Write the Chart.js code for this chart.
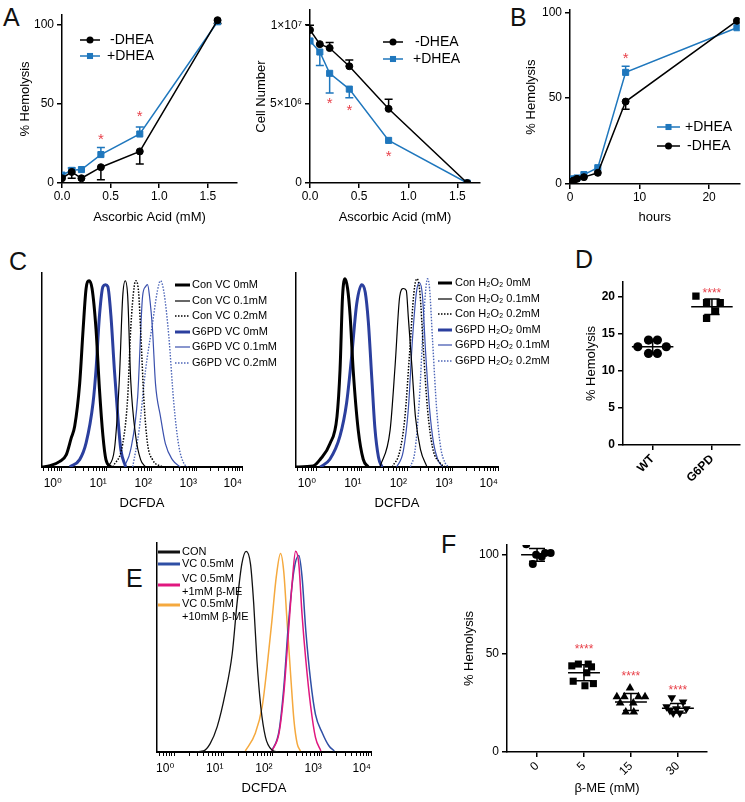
<!DOCTYPE html>
<html><head><meta charset="utf-8">
<script src="https://cdn.jsdelivr.net/npm/chart.js@4.4.1/dist/chart.umd.min.js"></script>
<style>
html,body{margin:0;padding:0;background:#fff}
body{position:relative;width:745px;height:802px;overflow:hidden;font-family:"Liberation Sans",Arial,sans-serif}
canvas{position:absolute}
.pl{position:absolute;font-size:25px;line-height:25px;color:#111}
</style></head><body>
<div class="pl" style="left:3px;top:5px">A</div>
<div class="pl" style="left:510px;top:5px">B</div>
<div class="pl" style="left:9px;top:249px">C</div>
<div class="pl" style="left:575px;top:247px">D</div>
<div class="pl" style="left:126px;top:566px">E</div>
<div class="pl" style="left:441px;top:532px">F</div>
<canvas id="a1" width="245" height="229" style="left:0px;top:0px"></canvas>
<canvas id="a2" width="243" height="229" style="left:245px;top:0px"></canvas>
<canvas id="b" width="240" height="229" style="left:505px;top:0px"></canvas>
<canvas id="c1" width="300" height="265" style="left:0px;top:250px"></canvas>
<canvas id="c2" width="320" height="265" style="left:250px;top:250px"></canvas>
<canvas id="d" width="173" height="275" style="left:572px;top:230px"></canvas>
<canvas id="e" width="280" height="280" style="left:100px;top:520px"></canvas>
<canvas id="f" width="305" height="280" style="left:440px;top:520px"></canvas>
<script>
// ================= DATA =================
// Panel A (left): % hemolysis vs ascorbic acid
const ascorbic = [0, 0.1, 0.2, 0.4, 0.8, 1.6];
const ascorbicTicks = [0, 0.5, 1.0, 1.5];
const hemoNoDHEA = [3, 7, 3, 10, 20, 103];
const hemoNoDHEAErrDown = [0, 4, 0, 8, 8, 2];
const hemoDHEA = [5, 8, 8.5, 18, 31, 102];
const hemoDHEAErrUp = [0, 1.5, 0, 4.5, 4.5, 0];
const hemoTicks = [0, 50, 100];
const hemoStarX = [0.4, 0.8];
const hemoStarY = [29.5, 44];

// Panel A (right): cell number vs ascorbic acid
const cellNoDHEA = [9.7e6, 8.8e6, 8.55e6, 7.4e6, 4.7e6, 0];
const cellNoDHEAErrUp = [0.3e6, 0, 0.35e6, 0.4e6, 0.6e6, 0];
const cellDHEA = [9.0e6, 8.3e6, 6.95e6, 5.95e6, 2.7e6, 0];
const cellDHEAErrDown = [0, 0.85e6, 1.25e6, 0.55e6, 0, 0];
const cellTicks = [0, 5e6, 1e7];
const cellTickLabels = ['0', '5×10⁶', '1×10⁷'];
const cellStarX = [0.2, 0.4, 0.8];
const cellStarY = [5.25e6, 4.8e6, 1.85e6];

// Panel B: % hemolysis vs hours
const hours = [0, 0.5, 1, 2, 4, 8, 24];
const hourTicks = [0, 10, 20];
const timeDHEA = [2, 3, 3.5, 5.5, 9.5, 65, 91];
const timeDHEAErrUp = [0, 0, 0, 0, 0, 3.5, 0];
const timeNoDHEA = [1, 2, 3, 4, 6.5, 48, 95];
const timeNoDHEAErrDown = [0, 0, 0, 0, 0, 4.5, 0];
const timeStarX = [8];
const timeStarY = [75];

// Flow histograms: [DCFDA intensity, % of max count]
const decades = [1, 10, 100, 1000, 10000];
const decadeLabels = ['10⁰', '10¹', '10²', '10³', '10⁴'];
// Panel C (left): VC
const conVC0 = [[0.363,0],[0.545,0.7],[0.904,2.9],[1.26,6.4],[1.62,15],[1.93,21],[2.49,43],[2.97,71],[3.46,92],[4.03,96],[4.69,92],[5.74,71],[6.85,40],[8.18,16],[9.53,3.8],[12.3,0]];
const conVC01 = [[10.5,0],[14.7,9],[18.9,45],[22.5,88],[25.6,96],[29.0,88],[33.8,45],[43.6,16],[56.1,3.8],[72.3,0]];
const conVC02 = [[13.6,0],[22.5,12],[29.0,36],[33.8,71],[40.4,93],[43.6,96],[50.7,90],[56.1,71],[67.0,33],[80.0,12],[103,3.8],[171,0]];
const g6pdVC0 = [[1.50,0],[2.49,3.8],[3.46,12.4],[4.93,33],[5.74,50],[6.85,78],[8.18,93],[9.29,94],[10.5,93],[12.3,78],[14.7,50],[17.5,26],[20.4,9],[26.2,0]];
const g6pdVC01 = [[24.3,0],[33.8,9],[48.2,36],[62.1,88],[72.3,93],[80.0,94],[88.5,88],[103,71],[120,43],[155,26],[199,12],[284,3.8],[426,0]];
const g6pdVC02 = [[37.4,0],[52.0,19],[72.3,50],[103,74],[133,91],[155,96],[185,90],[238,67],[306,33],[394,11],[508,2],[607,0]];
// Panel C (right): H2O2
const conH0 = [[0.363,0],[0.867,0.5],[1.24,4],[2.02,12],[2.89,26],[3.37,50],[3.83,88],[4.35,97],[4.94,92],[5.62,78],[6.56,50],[8.47,19],[10.9,4],[14.1,0]];
const conH01 = [[25.5,0],[42.5,19],[55.0,53],[69.2,88],[82.6,92],[96.4,91],[107,77],[128,52],[153,26],[198,9],[275,0]];
const conH02 = [[47.1,0],[69.2,8],[89.3,25],[115,60],[142,90],[165,97],[192,90],[230,60],[282,30],[365,10],[536,2],[692,0]];
const g6pdH0 = [[1.24,0],[2.02,4],[3.37,16],[4.70,33],[6.07,57],[7.83,84],[10.1,94],[12.1,90],[14.1,75],[16.9,45],[19.7,20],[23.6,5],[28.2,0]];
const g6pdH01 = [[59.3,0],[82.6,8],[107,30],[131,65],[161,90],[187,95],[219,88],[255,60],[313,30],[385,12],[472,4],[610,0]];
const g6pdH02 = [[118,0],[149,8],[187,35],[230,75],[262,93],[282,97],[313,92],[365,65],[448,30],[550,10],[692,2],[828,0]];
// Panel E
const eCon = [[2.59,0],[3.94,0.5],[5.38,4],[7.46,12],[10.9,28],[15.1,47],[18.9,71],[23.7,90],[29.0,96],[35.5,90],[41.3,71],[48.0,44],[57.3,22],[71.8,7],[97.0,1],[128,0]];
const eVC = [[97.0,0.5],[135,10],[169,31],[211,62],[272,87],[341,94],[396,84],[473,58],[593,34],[743,18],[1030,9],[1393,3],[1795,0.5]];
const eVC1 = [[97.0,0.5],[135,9],[169,28],[211,58],[252,82],[293,96],[341,90],[396,66],[473,44],[593,22],[743,7],[957,0.5]];
const eVC10 = [[27.9,0.5],[44.5,9],[61.7,22],[77.4,41],[97.0,63],[119,84],[145,95],[169,86],[196,63],[234,36],[272,15],[316,4],[368,0.5]];

// Panel D
const dGroups = ['WT', 'G6PD'];
const dTicks = [0, 5, 10, 15, 20];
const wtX = [0.75, 0.93, 1.08, 1.23, 0.93, 1.08];
const wtY = [13.26, 14.16, 14.16, 13.26, 12.36, 12.36];
const g6pdX = [1.73, 1.91, 2.14, 2.06, 1.91];
const g6pdY = [20.1, 19.2, 19.2, 18.1, 17.1];
const dMean = [13.25, 18.65];
const dSd = [0.8, 1.05];
const dStarX = [2];
const dStarY = [20.8];

// Panel F
const fGroups = ['0', '5', '15', '30'];
const fTicks = [0, 50, 100];
const f0X = [-0.23, -0.09, -0.02, 0.10, 0.17, 0.29];
const f0Y = [105.4, 95.3, 100, 99, 101, 101];
const f5X = [0.74, 0.88, 1.09, 1.16, 1.06, 0.77, 1.02, 1.20];
const f5Y = [43.7, 44.6, 44.6, 43.2, 40.2, 35.9, 33.6, 34.7];
const f15X = [1.98, 1.70, 2.16, 2.30, 1.77, 2.05, 1.89, 2.06, 1.86];
const f15Y = [32.5, 28, 28, 28, 24.9, 24.9, 20.3, 20.3, 28];
const f30X = [2.87, 3.11, 2.76, 2.97, 3.18, 2.90, 3.04, 2.83];
const f30Y = [27.5, 25.4, 22.9, 22, 22, 19.8, 19.8, 21];
const fMean = [100, 40.2, 25.4, 22.2];
const fSd = [3.2, 4.1, 4.3, 2.4];
const fStarX = [1, 2, 3];
const fStarY = [53, 39.5, 32.5];

// ================= SETUP =================
const FONT = '"Liberation Sans", "DejaVu Sans", Arial, sans-serif';
Chart.defaults.font.family = FONT;
Chart.defaults.color = '#000';
Chart.defaults.animation = false;
Chart.defaults.responsive = false;
Chart.defaults.plugins.legend.display = false;
Chart.defaults.plugins.tooltip.enabled = false;

const BLUE = '#1f77bd', RED = '#e8414a', BLACK = '#000';
const pts = (xs, ys) => xs.map((x, i) => ({ x, y: ys[i] }));
const pairs = arr => arr.map(p => ({ x: p[0], y: p[1] }));

function yLin(o) {
  return {
    type: 'linear', min: o.min, max: o.max,
    afterFit: s => { s.width = o.width; },
    afterBuildTicks: s => { s.ticks = o.ticks.map(v => ({ value: v })); },
    ticks: { autoSkip: false, padding: 3, font: { size: 12, weight: o.bold ? 'bold' : 'normal' },
      callback: v => o.labels ? o.labels[o.ticks.indexOf(v)] : String(v) },
    grid: { drawOnChartArea: false, tickLength: 5, color: '#000', lineWidth: 1.5 },
    border: { color: '#000', width: 1.5 },
    title: { display: !!o.title, text: o.title, font: { size: 13 }, padding: { top: 4, bottom: 0 } }
  };
}
function xLin(o) {
  return {
    type: 'linear', min: o.min, max: o.max,
    afterFit: s => { s.height = o.height; },
    afterBuildTicks: s => { s.ticks = o.ticks.map(v => ({ value: v })); },
    ticks: { autoSkip: false, minRotation: o.rot || 0, maxRotation: o.rot || 0, padding: o.pad == null ? 1 : o.pad,
      font: { size: 12, weight: o.bold ? 'bold' : 'normal' }, callback: o.fmt },
    grid: { drawOnChartArea: false, tickLength: 5, color: '#000', lineWidth: 1.5 },
    border: { color: '#000', width: 1.5 },
    title: { display: !!o.title, text: o.title, font: { size: 13 }, padding: { top: 0, bottom: 4 } }
  };
}
function logX(height, minV) {
  return {
    type: 'logarithmic', min: minV, max: 10000,
    afterFit: s => { s.height = height; },
    afterBuildTicks: s => {
      const t = [];
      [0.1].concat(decades).forEach(d => { for (let m = 1; m <= 9; m++) { const v = +(d * m).toPrecision(6); if (v >= minV && v <= 10000) t.push({ value: v }); } });
      s.ticks = t;
    },
    ticks: { autoSkip: false, minRotation: 0, maxRotation: 0, align: 'end', padding: 5, font: { size: 12 },
      callback: v => { const i = decades.indexOf(v); return i >= 0 ? decadeLabels[i] : ''; } },
    grid: { drawOnChartArea: false, tickLength: 4, color: '#000', lineWidth: 1 },
    border: { color: '#000', width: 2 },
    title: { display: true, text: 'DCFDA', font: { size: 13 }, padding: { top: 0, bottom: 4 } }
  };
}
function yPlain(width) {
  return { type: 'linear', min: 0, max: 100, afterFit: s => { s.width = width; },
    ticks: { display: false }, grid: { display: false }, border: { display: true, color: '#000', width: 1.5 } };
}
function lineDs(label, data, color, style, r) {
  return { label, data, borderColor: color, backgroundColor: color, borderWidth: 1.5, pointStyle: style,
    pointRadius: r, pointBackgroundColor: color, pointBorderColor: color, pointBorderWidth: 1, tension: 0, fill: false };
}
function histDs(label, data, color, width, dash) {
  return { label, data: pairs(data), borderColor: color, borderWidth: width, borderDash: dash || [],
    pointRadius: 0, cubicInterpolationMode: 'monotone', fill: false };
}
function scatDs(label, xs, ys, style, r, rot) {
  return { label, data: pts(xs, ys), pointStyle: style, pointRadius: r, pointRotation: rot || 0,
    backgroundColor: '#000', borderColor: '#000', pointBorderWidth: 0, showLine: false };
}

// ---------- plugins ----------
function errorBars(specs, capHalf) {
  return { id: 'errbars', beforeDatasetsDraw(chart) {
    const ctx = chart.ctx, sy = chart.scales.y;
    specs.forEach(sp => {
      const meta = chart.getDatasetMeta(sp.ds);
      const data = chart.data.datasets[sp.ds].data;
      ctx.save(); ctx.strokeStyle = sp.color; ctx.lineWidth = 1.5;
      meta.data.forEach((pt, i) => {
        [[sp.up, 1], [sp.down, -1]].forEach(([arr, sg]) => {
          if (!arr || !arr[i]) return;
          const ye = sy.getPixelForValue(data[i].y + sg * arr[i]);
          ctx.beginPath(); ctx.moveTo(pt.x, pt.y); ctx.lineTo(pt.x, ye);
          ctx.moveTo(pt.x - capHalf, ye); ctx.lineTo(pt.x + capHalf, ye); ctx.stroke();
        });
      });
      ctx.restore();
    });
  } };
}
function stars(xs, ys, text, size) {
  return { id: 'stars', afterDatasetsDraw(chart) {
    const ctx = chart.ctx; ctx.save(); ctx.fillStyle = RED; ctx.font = size + 'px ' + FONT;
    ctx.textAlign = 'center'; ctx.textBaseline = 'middle';
    xs.forEach((x, i) => ctx.fillText(text, chart.scales.x.getPixelForValue(x), chart.scales.y.getPixelForValue(ys[i]) + size * 0.22));
    ctx.restore();
  } };
}
function marker(ctx, style, r, x, y, color) {
  ctx.fillStyle = color; ctx.beginPath();
  if (style === 'rect') { const s = r * Math.SQRT1_2; ctx.rect(x - s, y - s, 2 * s, 2 * s); }
  else ctx.arc(x, y, r, 0, Math.PI * 2);
  ctx.fill();
}
function inLegend(items, o) {
  return { id: 'inlegend', afterDraw(chart) {
    const ctx = chart.ctx; ctx.save();
    items.forEach(it => {
      const ds = chart.data.datasets[it.ds];
      const x1 = it.x1 - o.ox, x2 = it.x2 - o.ox, ly = it.ly - o.oy;
      ctx.strokeStyle = ds.borderColor; ctx.lineWidth = o.lw || ds.borderWidth;
      ctx.setLineDash(ds.borderDash || []);
      ctx.beginPath(); ctx.moveTo(x1, ly); ctx.lineTo(x2, ly); ctx.stroke(); ctx.setLineDash([]);
      if (ds.pointRadius) marker(ctx, ds.pointStyle, ds.pointRadius, (x1 + x2) / 2, ly, ds.pointBackgroundColor);
      ctx.fillStyle = '#000'; ctx.font = o.font + 'px ' + FONT; ctx.textAlign = 'left'; ctx.textBaseline = 'middle';
      String(ds.label).split('\n').forEach((ln, k) => ctx.fillText(ln, it.tx - o.ox, (it.ty == null ? it.ly : it.ty) - o.oy + k * (o.lh || 0)));
    });
    ctx.restore();
  } };
}
function meanSd(xs, means, sds, halfW, capHalf) {
  return { id: 'meansd', afterDatasetsDraw(chart) {
    const ctx = chart.ctx, sx = chart.scales.x, sy = chart.scales.y;
    ctx.save(); ctx.strokeStyle = '#000'; ctx.lineWidth = 1.5;
    means.forEach((m, i) => {
      const c = xs[i], ym = sy.getPixelForValue(m);
      const yt = sy.getPixelForValue(m + sds[i]), yb = sy.getPixelForValue(m - sds[i]);
      ctx.beginPath();
      ctx.moveTo(sx.getPixelForValue(c - halfW), ym); ctx.lineTo(sx.getPixelForValue(c + halfW), ym);
      ctx.moveTo(sx.getPixelForValue(c), yt); ctx.lineTo(sx.getPixelForValue(c), yb);
      ctx.moveTo(sx.getPixelForValue(c - capHalf), yt); ctx.lineTo(sx.getPixelForValue(c + capHalf), yt);
      ctx.moveTo(sx.getPixelForValue(c - capHalf), yb); ctx.lineTo(sx.getPixelForValue(c + capHalf), yb);
      ctx.stroke();
    });
    ctx.restore();
  } };
}

// ================= CHARTS =================
// A left
new Chart(document.getElementById('a1'), {
  type: 'line',
  data: { datasets: [
    lineDs('-DHEA', pts(ascorbic, hemoNoDHEA), BLACK, 'circle', 3.5),
    lineDs('+DHEA', pts(ascorbic, hemoDHEA), BLUE, 'rect', 4.3)
  ] },
  options: {
    layout: { padding: { left: 14, right: 8, top: 15, bottom: 0 } },
    scales: {
      x: xLin({ min: 0, max: 1.8, ticks: ascorbicTicks, height: 46, title: 'Ascorbic Acid (mM)', fmt: v => v.toFixed(1) }),
      y: yLin({ min: 0, max: 106.3, ticks: hemoTicks, width: 48, title: '% Hemolysis' })
    }
  },
  plugins: [
    errorBars([{ ds: 0, down: hemoNoDHEAErrDown, color: BLACK }, { ds: 1, up: hemoDHEAErrUp, color: BLUE }], 4),
    stars(hemoStarX, hemoStarY, '*', 15),
    inLegend([{ ds: 0, x1: 80, x2: 100, ly: 40, tx: 110 }, { ds: 1, x1: 80, x2: 100, ly: 56, tx: 107 }], { ox: 0, oy: 0, font: 14 })
  ]
});

// A right
new Chart(document.getElementById('a2'), {
  type: 'line',
  data: { datasets: [
    lineDs('-DHEA', pts(ascorbic, cellNoDHEA), BLACK, 'circle', 3.5),
    lineDs('+DHEA', pts(ascorbic, cellDHEA), BLUE, 'rect', 4.3)
  ] },
  options: {
    layout: { padding: { left: 5, right: 8, top: 10, bottom: 0 } },
    scales: {
      x: xLin({ min: 0, max: 1.73, ticks: ascorbicTicks, height: 46, title: 'Ascorbic Acid (mM)', fmt: v => v.toFixed(1) }),
      y: yLin({ min: 0, max: 1.095e7, ticks: cellTicks, labels: cellTickLabels, width: 60, title: 'Cell Number' })
    }
  },
  plugins: [
    errorBars([{ ds: 0, up: cellNoDHEAErrUp, color: BLACK }, { ds: 1, down: cellDHEAErrDown, color: BLUE }], 4),
    stars(cellStarX, cellStarY, '*', 15),
    inLegend([{ ds: 0, x1: 383, x2: 403, ly: 42, tx: 415 }, { ds: 1, x1: 383, x2: 403, ly: 59, tx: 413 }], { ox: 245, oy: 0, font: 14 })
  ]
});

// B
new Chart(document.getElementById('b'), {
  type: 'line',
  data: { datasets: [
    lineDs('-DHEA', pts(hours, timeNoDHEA), BLACK, 'circle', 3.5),
    lineDs('+DHEA', pts(hours, timeDHEA), BLUE, 'rect', 4.3)
  ] },
  options: {
    layout: { padding: { left: 15, right: 2, top: 10, bottom: 0 } },
    scales: {
      x: xLin({ min: 0, max: 24.4, ticks: hourTicks, height: 45, title: 'hours', fmt: v => String(v) }),
      y: yLin({ min: 0, max: 101.2, ticks: hemoTicks, width: 50, title: '% Hemolysis' })
    }
  },
  plugins: [
    errorBars([{ ds: 0, down: timeNoDHEAErrDown, color: BLACK }, { ds: 1, up: timeDHEAErrUp, color: BLUE }], 4),
    stars(timeStarX, timeStarY, '*', 15),
    inLegend([{ ds: 1, x1: 657, x2: 680, ly: 127, tx: 685 }, { ds: 0, x1: 657, x2: 680, ly: 146, tx: 687 }], { ox: 505, oy: 0, font: 14 })
  ]
});

// C left (VC)
const BL1 = '#2b3f9e', BL2 = '#3a50ad', BL3 = '#4d66b8';
new Chart(document.getElementById('c1'), {
  type: 'line',
  data: { datasets: [
    histDs('Con VC 0mM', conVC0, '#000', 3),
    histDs('Con VC 0.1mM', conVC01, '#000', 1.2),
    histDs('Con VC 0.2mM', conVC02, '#000', 1.5, [1.5, 1.5]),
    histDs('G6PD VC 0mM', g6pdVC0, BL1, 3),
    histDs('G6PD VC 0.1mM', g6pdVC01, BL2, 1.2),
    histDs('G6PD VC 0.2mM', g6pdVC02, BL3, 1.4, [1.5, 1.5])
  ] },
  options: {
    layout: { padding: { left: 0, right: 58, top: 23, bottom: 0 } },
    scales: { x: logX(48, 0.363), y: yPlain(42) }
  },
  plugins: [inLegend([0, 1, 2, 3, 4, 5].map((k, i) => ({ ds: k, x1: 175, x2: 190, ly: [285, 301, 316, 332, 347, 363][i], tx: 192 })),
    { ox: 0, oy: 250, font: 11 })]
});

// C right (H2O2)
new Chart(document.getElementById('c2'), {
  type: 'line',
  data: { datasets: [
    histDs('Con H₂O₂ 0mM', conH0, '#000', 3),
    histDs('Con H₂O₂ 0.1mM', conH01, '#000', 1.2),
    histDs('Con H₂O₂ 0.2mM', conH02, '#000', 1.5, [1.5, 1.5]),
    histDs('G6PD H₂O₂ 0mM', g6pdH0, BL1, 3),
    histDs('G6PD H₂O₂ 0.1mM', g6pdH01, BL2, 1.2),
    histDs('G6PD H₂O₂ 0.2mM', g6pdH02, BL3, 1.4, [1.5, 1.5])
  ] },
  options: {
    layout: { padding: { left: 0, right: 72, top: 23, bottom: 0 } },
    scales: { x: logX(48, 0.363), y: yPlain(46) }
  },
  plugins: [inLegend([0, 1, 2, 3, 4, 5].map((k, i) => ({ ds: k, x1: 438, x2: 452, ly: [283, 299, 314, 330, 345, 361][i], tx: 455 })),
    { ox: 250, oy: 250, font: 11 })]
});

// D
new Chart(document.getElementById('d'), {
  type: 'scatter',
  data: { datasets: [
    scatDs('WT', wtX, wtY, 'circle', 4.6),
    scatDs('G6PD', g6pdX, g6pdY, 'rect', 5.2)
  ] },
  options: {
    layout: { padding: { left: 8, right: 2, top: 52, bottom: 0 } },
    scales: {
      x: xLin({ min: 0.5, max: 2.47, ticks: [1, 2], height: 60, rot: 45, bold: true, pad: 2, fmt: v => dGroups[v - 1] }),
      y: yLin({ min: 0, max: 22, ticks: dTicks, width: 43, title: '% Hemolysis', bold: true })
    }
  },
  plugins: [meanSd([1, 2], dMean, dSd, 0.35, 0.13), stars(dStarX, dStarY, '****', 12)]
});

// E
new Chart(document.getElementById('e'), {
  type: 'line',
  data: { datasets: [
    histDs('CON', eCon, '#111', 1.3),
    histDs('VC 0.5mM\n+1mM β-ME', eVC1, '#e0177f', 1.5),
    histDs('VC 0.5mM', eVC, '#2f4fa5', 1.5),
    histDs('VC 0.5mM\n+10mM β-ME', eVC10, '#f5a93e', 1.5)
  ] },
  options: {
    layout: { padding: { left: 0, right: 9, top: 23, bottom: 0 } },
    scales: { x: logX(48, 0.447), y: yPlain(57) }
  },
  plugins: [inLegend([
    { ds: 0, x1: 158, x2: 180, ly: 552, tx: 182 },
    { ds: 2, x1: 158, x2: 180, ly: 564, tx: 182 },
    { ds: 1, x1: 158, x2: 180, ly: 585, tx: 182, ty: 579 },
    { ds: 3, x1: 158, x2: 180, ly: 605, tx: 182, ty: 604 }
  ], { ox: 100, oy: 520, font: 11, lw: 3, lh: 13 })]
});

// F
new Chart(document.getElementById('f'), {
  type: 'scatter',
  data: { datasets: [
    scatDs('0', f0X, f0Y, 'circle', 4),
    scatDs('5', f5X, f5Y, 'rect', 5),
    scatDs('15', f15X, f15Y, 'triangle', 5),
    scatDs('30', f30X, f30Y, 'triangle', 5, 180)
  ] },
  options: {
    layout: { padding: { left: 18, right: 38, top: 25, bottom: 0 } },
    scales: {
      x: xLin({ min: -0.64, max: 3.62, ticks: [0, 1, 2, 3], height: 48, rot: 45, pad: 2, title: 'β-ME (mM)', fmt: v => fGroups[v] }),
      y: yLin({ min: 0, max: 105, ticks: fTicks, width: 49, title: '% Hemolysis' })
    }
  },
  plugins: [meanSd([0, 1, 2, 3], fMean, fSd, 0.34, 0.17), stars(fStarX, fStarY, '****', 12)]
});
</script>
</body></html>
